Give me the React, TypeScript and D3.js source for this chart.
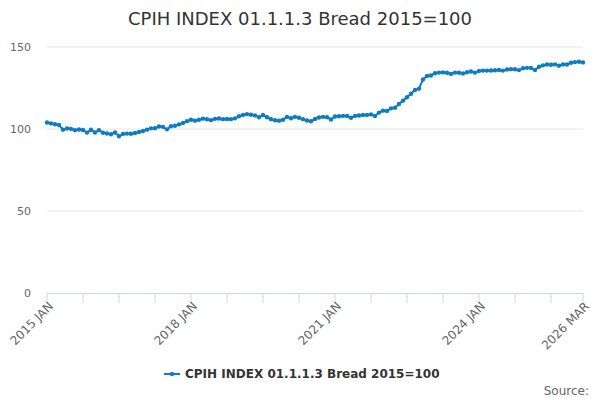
import * as React from 'react';
import * as d3 from 'd3';

// monthly index values
const v2015 = [104.0, 103.4, 102.9, 102.4, 99.6, 100.3, 100.1, 99.3, 99.7, 99.4, 97.8, 99.5];
const v2016 = [97.9, 99.3, 97.7, 97.3, 96.8, 97.9, 95.6, 97.0, 97.2, 97.1, 97.6, 98.2];
const v2017 = [98.8, 99.6, 100.4, 100.5, 101.5, 101.3, 99.8, 101.7, 102.0, 102.8, 103.7, 104.8];
const v2018 = [105.6, 105.1, 105.6, 106.3, 105.9, 105.4, 106.2, 106.4, 106.0, 106.1, 106.0, 106.5];
const v2019 = [107.8, 108.6, 109.1, 108.7, 108.3, 107.2, 108.5, 107.2, 106.0, 105.3, 105.1, 105.6];
const v2020 = [107.4, 106.6, 107.4, 106.9, 106.0, 105.2, 104.7, 106.1, 107.0, 107.4, 107.2, 105.8];
const v2021 = [107.6, 107.8, 108.0, 107.9, 106.9, 107.9, 108.2, 108.5, 108.6, 108.9, 107.9, 110.0];
const v2022 = [111.2, 111.0, 112.6, 113.0, 115.3, 117.3, 119.4, 121.5, 123.8, 124.6, 130.2, 132.3];
const v2023 = [132.6, 134.0, 134.4, 134.5, 134.3, 133.6, 134.4, 134.3, 133.8, 134.6, 135.1, 134.4];
const v2024 = [135.4, 135.6, 135.6, 135.7, 135.8, 136.0, 135.6, 136.3, 136.5, 136.4, 135.9, 137.0];
const v2025 = [137.3, 137.2, 136.0, 138.0, 138.8, 139.3, 139.2, 139.4, 138.6, 139.4, 139.3, 140.4];
const v2026 = [140.8, 141.0, 140.6];

const years = [2015, 2016, 2017, 2018, 2019, 2020, 2021, 2022, 2023, 2024, 2025, 2026];
const months = ['JAN', 'FEB', 'MAR', 'APR', 'MAY', 'JUN', 'JUL', 'AUG', 'SEP', 'OCT', 'NOV', 'DEC'];
const yTicks = [0, 50, 100, 150];
const labelEvery = 36; // a label every 3 years
const tickEvery = 9;

const seriesName = 'CPIH INDEX 01.1.1.3 Bread 2015=100';

const values = [v2015, v2016, v2017, v2018, v2019, v2020, v2021, v2022, v2023, v2024, v2025, v2026];
const data = values.flatMap((arr, yi) =>
    arr.map((v, mi) => ({label: `${years[yi]} ${months[mi]}`, value: v})));

const width = 600;
const height = 400;
const left = 47, right = 583, top = 47, bottom = 293;
const color = '#0f7cc1';
const font = '"DejaVu Sans", sans-serif';

const App = () => {
    const last = data.length - 1;
    const x = d3.scaleLinear().domain([0, last]).range([left, right]);
    const y = d3.scaleLinear().domain([0, 150]).range([bottom, top]);

    const line = d3.line<{value: number}>()
        .x((d, i) => x(i))
        .y(d => y(d.value));

    const tickIdx = d3.range(0, last, tickEvery).concat([last]);
    const labelIdx = d3.range(0, last, labelEvery).concat([last]);

    return (
        <svg width={width} height={height}
             style={{position: 'absolute', left: 0, top: 0, fontFamily: font}}>
            <text x={width / 2} y={25} textAnchor='middle' fontSize={18} fill='#333333'>
                {seriesName}
            </text>

            {yTicks.map(t => (
                <g key={t}>
                    {t > 0 && <line x1={left} x2={right} y1={y(t)} y2={y(t)} stroke='#e6e6e6' />}
                    <text x={31} y={y(t)} dy='0.35em' textAnchor='end' fontSize={11} fill='#666666'>{t}</text>
                </g>
            ))}

            <line x1={left} x2={right} y1={bottom + 0.5} y2={bottom + 0.5} stroke='#ccd6eb' />
            {tickIdx.map(i => (
                <line key={i} x1={x(i)} x2={x(i)} y1={bottom} y2={bottom + 10} stroke='#ccd6eb' />
            ))}
            {labelIdx.map(i => (
                <text key={i} transform={`translate(${x(i) + 4},${bottom + 11}) rotate(-45)`}
                      textAnchor='end' dy='0.35em' fontSize={12} fill='#666666'>
                    {data[i].label}
                </text>
            ))}

            <path d={line(data) || ''} fill='none' stroke={color} strokeWidth={2} />
            {data.map((d, i) => (
                <circle key={i} cx={x(i)} cy={y(d.value)} r={2.2} fill={color} />
            ))}

            <g>
                <line x1={164} x2={180} y1={374} y2={374} stroke={color} strokeWidth={2} />
                <circle cx={172} cy={374} r={2.2} fill={color} />
                <text x={185} y={378} fontSize={12} fontWeight='bold' fill='#333333'>{seriesName}</text>
            </g>

            <text x={589} y={395} textAnchor='end' fontSize={12} fill='#666666'>Source:</text>
        </svg>
    );
};

export default App;
